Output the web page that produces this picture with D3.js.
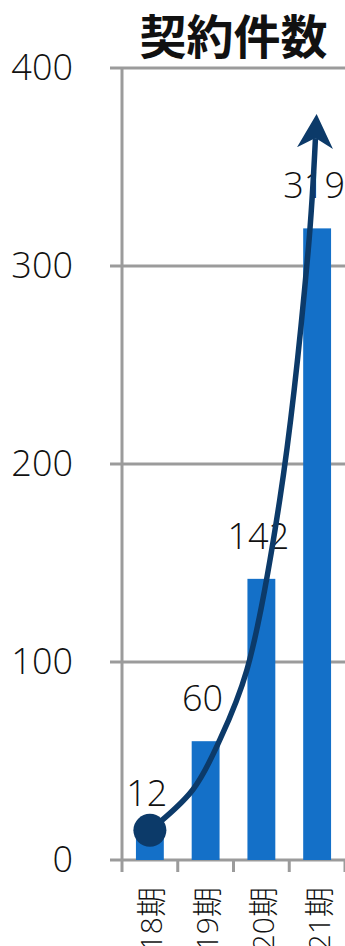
<!DOCTYPE html>
<html>
<head>
<meta charset="utf-8">
<script src="https://cdn.jsdelivr.net/npm/d3@7/dist/d3.min.js"></script>
<style>
  html, body { margin: 0; padding: 0; background: #fff; }
  svg { display: block; }
  text { font-family: "Open Sans", "Noto Sans CJK JP", sans-serif; font-weight: 300; fill: #111; }
</style>
</head>
<body>
<svg id="chart" width="345" height="946"></svg>
<script>
// Contract counts per fiscal period
const categories = ["18期", "19期", "20期", "21期"];
const values = [12, 60, 142, 319];
const yTicks = [0, 100, 200, 300, 400];
const title = "契約件数";

// Growth arrow path, in [band position, value] units
const trendPoints = [
  [0.5, 15], [1.27, 35.5], [1.76, 61], [2.24, 96], [2.83, 182], [3.34, 308], [3.47, 364.6]
];

const W = 345, H = 946;
const plot = { left: 122, right: 345, top: 68, bottom: 860 };

const svg = d3.select("#chart");

const x = d3.scaleBand()
  .domain(categories)
  .range([plot.left, plot.right])
  .paddingInner(0.5)
  .paddingOuter(0.25);

const y = d3.scaleLinear().domain([0, 400]).range([plot.bottom, plot.top]);

const step = x.step();
const xPos = u => plot.left + u * step;

const gridColor = "#9b9b9b";
const barColor = "#1470c8";
const navy = "#0c3a69";

// Title
svg.append("text")
  .attr("x", (plot.left + plot.right) / 2)
  .attr("y", 54)
  .attr("text-anchor", "middle")
  .style("font-family", "'Noto Sans CJK JP', sans-serif")
  .style("font-weight", 700)
  .style("font-size", "47px")
  .text(title);

// Horizontal gridlines with left tick stubs
svg.append("g").selectAll("line")
  .data(yTicks)
  .join("line")
  .attr("x1", plot.left - 12)
  .attr("x2", plot.right)
  .attr("y1", d => y(d))
  .attr("y2", d => y(d))
  .attr("stroke", gridColor)
  .attr("stroke-width", 3);

// Y axis line
svg.append("line")
  .attr("x1", plot.left).attr("x2", plot.left)
  .attr("y1", y(400)).attr("y2", y(0))
  .attr("stroke", gridColor)
  .attr("stroke-width", 3);

// Y tick labels
svg.append("g").selectAll("text")
  .data(yTicks)
  .join("text")
  .attr("x", 73)
  .attr("y", d => y(d) + 12)
  .attr("text-anchor", "end")
  .style("font-size", "36px")
  .text(d => d);

// X ticks at band boundaries
const boundaries = d3.range(categories.length + 1).map(i => plot.left + i * step);
svg.append("g").selectAll("line")
  .data(boundaries)
  .join("line")
  .attr("x1", d => d).attr("x2", d => d)
  .attr("y1", y(0)).attr("y2", y(0) + 12)
  .attr("stroke", gridColor)
  .attr("stroke-width", 3);

// Bars
svg.append("g").selectAll("rect")
  .data(values)
  .join("rect")
  .attr("x", (d, i) => x(categories[i]))
  .attr("y", d => y(d))
  .attr("width", x.bandwidth())
  .attr("height", d => y(0) - y(d))
  .attr("fill", barColor);

// Value labels
svg.append("g").selectAll("text")
  .data(values)
  .join("text")
  .attr("x", (d, i) => x(categories[i]) + x.bandwidth() / 2 - 3)
  .attr("y", d => y(d) - 30)
  .attr("text-anchor", "middle")
  .style("font-size", "36px")
  .text(d => d);

// Category labels, rotated
svg.append("g").selectAll("text")
  .data(categories)
  .join("text")
  .attr("transform", d => `translate(${x(d) + x.bandwidth() / 2 + 1},${y(0) + 27}) rotate(-90)`)
  .attr("text-anchor", "end")
  .attr("dominant-baseline", "central")
  .style("font-size", "30px")
  .text(d => d);

// Growth arrow
const defs = svg.append("defs");
defs.append("marker")
  .attr("id", "arrowhead")
  .attr("markerUnits", "userSpaceOnUse")
  .attr("viewBox", "0 0 34 36")
  .attr("markerWidth", 34)
  .attr("markerHeight", 36)
  .attr("refX", 10)
  .attr("refY", 18)
  .attr("orient", "auto")
  .append("path")
  .attr("d", "M0,0 L34,18 L0,36 L10,18 Z")
  .attr("fill", navy);

const line = d3.line()
  .x(d => xPos(d[0]))
  .y(d => y(d[1]))
  .curve(d3.curveCatmullRom.alpha(0.5));

svg.append("path")
  .datum(trendPoints)
  .attr("d", line)
  .attr("fill", "none")
  .attr("stroke", navy)
  .attr("stroke-width", 5.5)
  .attr("marker-end", "url(#arrowhead)");

svg.append("circle")
  .attr("cx", xPos(trendPoints[0][0]))
  .attr("cy", y(trendPoints[0][1]))
  .attr("r", 16.5)
  .attr("fill", navy);
</script>
</body>
</html>
